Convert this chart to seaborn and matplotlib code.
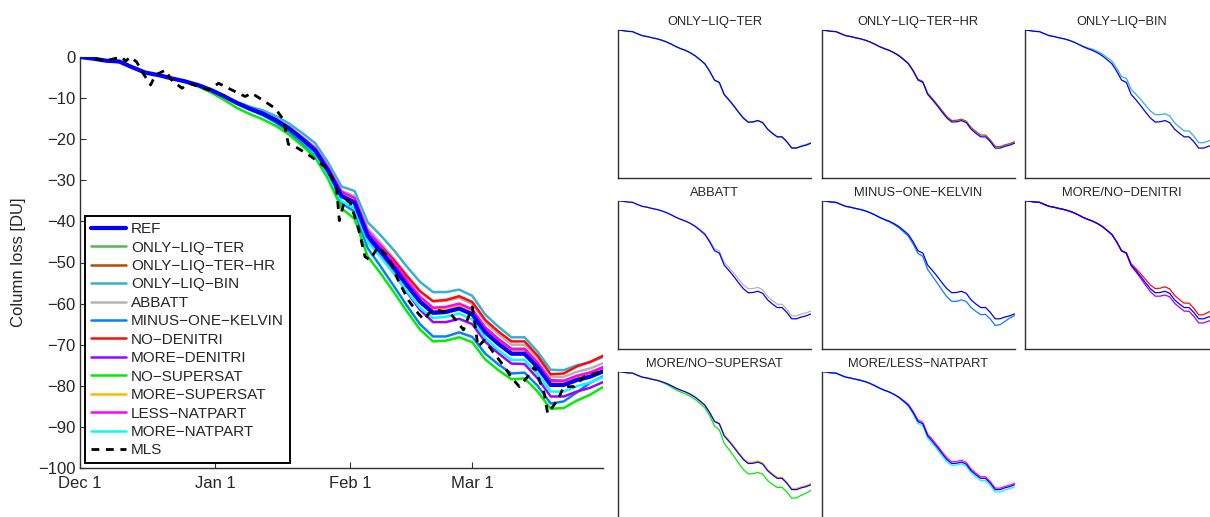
import numpy as np
import pandas as pd
import matplotlib
matplotlib.use("Agg")
import matplotlib.pyplot as plt
from matplotlib.lines import Line2D
import seaborn as sns

# ---------------------------------------------------------------- data
# days since 1 December (model output every 3 days)
days = np.arange(0, 121, 3)

ref = [0.0, -0.4, -0.9, -1.1, -2.5, -3.8, -4.4, -5.2, -5.9, -6.8, -8.0, -9.5, -11.2, -12.6,
       -13.8, -15.4, -17.4, -20.0, -22.8, -27.8, -33.8, -35.4, -43.5, -47.2, -51.2, -55.5,
       -59.5, -62.2, -62.0, -61.2, -62.6, -67.0, -69.8, -72.2, -72.2, -75.5, -79.8, -79.8,
       -78.6, -77.8, -76.5]
only_liq_ter = [0.0, -0.4, -0.9, -1.1, -2.5, -3.8, -4.4, -5.2, -5.9, -6.8, -8.0, -9.5, -11.2,
                -12.6, -13.8, -15.6, -17.6, -20.2, -23.0, -28.0, -34.0, -35.7, -43.8, -47.5,
                -51.5, -55.8, -59.8, -62.5, -62.3, -61.2, -62.6, -67.0, -69.8, -72.2, -72.2,
                -75.5, -79.5, -79.5, -78.3, -77.4, -76.1]
only_liq_ter_hr = [0.0, -0.4, -0.9, -1.1, -2.5, -3.8, -4.4, -5.2, -5.9, -6.8, -8.0, -9.5,
                   -11.2, -12.4, -13.6, -15.2, -17.0, -19.6, -22.4, -27.2, -33.2, -34.8, -42.7,
                   -46.4, -50.4, -54.5, -58.5, -61.2, -61.0, -60.2, -61.6, -65.8, -68.6, -71.0,
                   -71.0, -74.3, -78.6, -78.8, -77.6, -76.8, -75.5]
only_liq_bin = [0.0, -0.4, -0.9, -1.1, -2.5, -3.8, -4.4, -5.2, -5.9, -6.8, -8.0, -9.5, -10.9,
                -12.1, -13.0, -14.4, -16.2, -18.5, -21.0, -25.8, -31.5, -32.6, -40.2, -43.4,
                -47.0, -51.0, -54.7, -57.2, -57.2, -56.6, -58.1, -62.7, -65.6, -68.2, -68.2,
                -71.7, -76.1, -76.2, -75.0, -74.3, -73.0]
abbatt = [0.0, -0.4, -0.9, -1.1, -2.5, -3.8, -4.4, -5.2, -5.9, -6.8, -8.0, -9.5, -11.2, -12.6,
          -13.8, -15.2, -17.0, -19.4, -22.0, -26.8, -32.5, -33.9, -41.7, -45.2, -49.0, -53.1,
          -56.9, -59.5, -59.3, -58.6, -60.1, -64.6, -67.5, -70.0, -70.0, -73.4, -77.8, -77.8,
          -76.6, -75.8, -74.5]
minus_one_kelvin = [0.0, -0.4, -0.9, -1.1, -2.5, -3.8, -4.4, -5.2, -5.9, -6.8, -8.0, -9.5,
                    -11.2, -12.8, -14.2, -16.0, -18.2, -21.0, -24.0, -29.3, -35.6, -37.6, -46.5,
                    -51.0, -55.7, -60.5, -65.0, -68.0, -68.0, -67.0, -68.1, -72.2, -74.8, -77.0,
                    -76.8, -80.0, -84.3, -83.8, -81.6, -79.3, -77.7]
no_denitri = [0.0, -0.4, -0.9, -1.1, -2.5, -3.8, -4.4, -5.2, -5.9, -6.8, -8.0, -9.5, -11.2,
              -12.6, -13.8, -15.4, -17.4, -20.0, -22.8, -27.8, -33.8, -35.1, -42.7, -45.9,
              -49.4, -53.3, -57.0, -59.4, -59.1, -58.2, -59.6, -64.0, -66.8, -69.2, -69.2,
              -72.7, -77.2, -77.0, -75.3, -74.2, -72.7]
more_denitri = [0.0, -0.4, -0.9, -1.1, -2.5, -3.8, -4.4, -5.2, -5.9, -6.8, -8.0, -9.5, -11.2,
                -12.6, -13.8, -15.4, -17.4, -20.0, -22.8, -27.8, -33.8, -35.6, -44.0, -48.1,
                -52.5, -57.2, -61.5, -64.5, -64.5, -63.7, -65.0, -69.3, -72.1, -74.6, -74.7,
                -78.2, -82.6, -82.6, -81.4, -80.5, -79.1]
no_supersat = [0.0, -0.4, -0.9, -1.1, -2.5, -3.8, -4.4, -5.2, -5.9, -7.1, -8.6, -10.4, -12.4,
               -13.9, -15.2, -16.8, -18.9, -21.6, -24.5, -29.8, -36.8, -39.4, -48.5, -52.7,
               -57.2, -61.9, -66.3, -69.2, -69.0, -68.2, -69.4, -73.6, -76.2, -78.4, -78.2,
               -81.4, -85.6, -85.4, -83.6, -82.2, -80.3]
more_supersat = [0.0, -0.4, -0.9, -1.1, -2.5, -3.8, -4.4, -5.2, -5.9, -6.8, -8.0, -9.5, -11.2,
                 -12.6, -13.8, -15.3, -17.2, -19.7, -22.4, -27.3, -33.2, -34.7, -42.7, -46.4,
                 -50.4, -54.7, -58.7, -61.4, -61.2, -60.4, -61.8, -66.2, -69.0, -71.4, -71.4,
                 -74.7, -79.0, -79.0, -77.8, -77.0, -75.7]
less_natpart = [0.0, -0.4, -0.9, -1.1, -2.5, -3.8, -4.4, -5.2, -5.9, -6.8, -8.0, -9.5, -11.2,
                -12.6, -13.8, -15.4, -17.2, -19.6, -22.2, -27.0, -32.8, -34.3, -42.3, -46.0,
                -50.0, -54.3, -58.3, -61.0, -60.8, -60.0, -61.4, -65.9, -68.7, -71.1, -71.1,
                -74.5, -78.8, -78.8, -77.6, -76.8, -75.5]
more_natpart = [0.0, -0.4, -0.9, -1.1, -2.5, -3.8, -4.4, -5.2, -5.9, -6.8, -8.0, -9.5, -11.2,
                -12.6, -13.8, -15.4, -17.6, -20.4, -23.5, -28.8, -35.1, -36.8, -45.0, -48.7,
                -52.7, -57.0, -61.0, -63.5, -63.2, -62.4, -63.9, -68.4, -71.3, -73.7, -73.7,
                -77.1, -81.4, -81.4, -80.1, -79.2, -77.9]

# MLS observations
mls_days = [3.5, 5.5, 7.5, 9.5, 10.5, 11.5, 13.0, 14.5, 16.2, 17.3, 19.6, 21.0, 23.4, 25.0,
            27.2, 29.5, 31.8, 34.8, 37.9, 39.4, 42.5, 44.8, 46.7, 47.8, 50.0, 53.0, 56.2,
            57.7, 58.9, 59.5, 60.8, 62.0, 63.8, 65.4, 66.5, 68.4, 70.7, 73.0, 75.3, 77.6,
            79.0, 80.0, 82.0, 85.0, 88.0, 90.0, 90.6, 91.3, 92.8, 95.0, 97.4, 99.0, 100.8,
            102.7, 104.3, 106.5, 107.3, 109.6, 111.0, 113.4, 115.7, 118.0, 120.0]
mls = [-0.4, -0.9, -0.5, 0.0, -1.0, 0.0, -1.2, -4.0, -6.8, -4.4, -3.2, -5.6, -7.6, -6.4,
       -7.2, -8.0, -6.4, -8.0, -9.6, -8.8, -10.9, -12.5, -15.3, -21.2, -22.2, -24.2, -26.7,
       -29.1, -32.4, -39.8, -34.5, -35.5, -41.3, -48.6, -49.4, -46.2, -48.6, -54.3, -59.1,
       -62.4, -64.0, -62.4, -61.6, -62.4, -66.4, -60.8, -64.8, -70.5, -68.9, -72.1, -75.4,
       -78.0, -80.2, -77.8, -75.4, -81.8, -86.7, -83.5, -80.2, -80.2, -77.8, -77.0, -76.5]

labels = ["REF", "ONLY-LIQ-TER", "ONLY-LIQ-TER-HR", "ONLY-LIQ-BIN", "ABBATT",
          "MINUS-ONE-KELVIN", "NO-DENITRI", "MORE-DENITRI", "NO-SUPERSAT",
          "MORE-SUPERSAT", "LESS-NATPART", "MORE-NATPART"]
series = [ref, only_liq_ter, only_liq_ter_hr, only_liq_bin, abbatt, minus_one_kelvin,
          no_denitri, more_denitri, no_supersat, more_supersat, less_natpart, more_natpart]
colors = ["#0000FF", "#55B455", "#B24C00", "#38B0D0", "#B4B4B4", "#0A7DFF",
          "#FF0A0A", "#A000FF", "#00EE00", "#FFB600", "#FF00FF", "#00FFFF"]

tick_days = [0, 31, 62, 90]
tick_names = ["Dec 1", "Jan 1", "Feb 1", "Mar 1"]

panels = [("ONLY-LIQ-TER", ["ONLY-LIQ-TER"]),
          ("ONLY-LIQ-TER-HR", ["ONLY-LIQ-TER-HR"]),
          ("ONLY-LIQ-BIN", ["ONLY-LIQ-BIN"]),
          ("ABBATT", ["ABBATT"]),
          ("MINUS-ONE-KELVIN", ["MINUS-ONE-KELVIN"]),
          ("MORE/NO-DENITRI", ["NO-DENITRI", "MORE-DENITRI"]),
          ("MORE/NO-SUPERSAT", ["NO-SUPERSAT", "MORE-SUPERSAT"]),
          ("MORE/LESS-NATPART", ["LESS-NATPART", "MORE-NATPART"])]

# ---------------------------------------------------------------- style
sns.set_theme(style="white")
plt.rcParams["font.family"] = ["Liberation Sans", "DejaVu Sans"]
plt.rcParams["axes.unicode_minus"] = True

W, H = 1210, 517
fig = plt.figure(figsize=(W / 100, H / 100), dpi=100)


def rect(left, top, right, bottom):
    return [left / W, 1 - bottom / H, (right - left) / W, (bottom - top) / H]


def dash(s):
    return s.replace("-", "\u2212")


spine_col = "#303030"
data = {lab: vals for lab, vals in zip(labels, series)}
cmap = dict(zip(labels, colors))

# ---------------------------------------------------------------- main panel
ax = fig.add_axes(rect(80, 57, 603, 468))
# sensitivity runs first, the reference run on top of them, observations last
for lab, col in zip(labels[1:], colors[1:]):
    sns.lineplot(x=days, y=data[lab], ax=ax, color=col, lw=1.8, legend=False)
sns.lineplot(x=days, y=data["REF"], ax=ax, color=cmap["REF"], lw=3.0, legend=False)
sns.lineplot(x=mls_days, y=mls, ax=ax, color="black", lw=2.0, legend=False,
             linestyle=(0, (2.8, 2.4)), clip_on=False)

ax.set_xlim(0, 120)
ax.set_ylim(-100, 0)
ax.set_xticks(tick_days)
ax.set_xticklabels(tick_names)
ax.set_yticks(np.arange(-100, 1, 10))
ax.set_ylabel("Column loss [DU]", fontsize=12, labelpad=9)
ax.tick_params(direction="in", length=4, width=0.8, color=spine_col,
               labelsize=12, bottom=True, left=True)
ax.tick_params(axis="x", pad=6)
ax.tick_params(axis="y", pad=3)
for side in ["top", "right"]:
    ax.spines[side].set_visible(False)
for side in ["left", "bottom"]:
    ax.spines[side].set_color(spine_col)
    ax.spines[side].set_linewidth(1.0)

handles = [Line2D([], [], color=c, lw=(3.0 if l == "REF" else 1.8)) for l, c in zip(labels, colors)]
handles.append(Line2D([], [], color="black", lw=2.0, linestyle=(0, (2.8, 2.4))))
names = [dash(l) for l in labels] + ["MLS"]
leg = ax.legend(handles, names, loc="lower left", bbox_to_anchor=(0.0095, 0.011),
                borderaxespad=0, fontsize=11, frameon=True, fancybox=False,
                edgecolor="black", framealpha=1, labelspacing=0.29, handlelength=2.3,
                handletextpad=0.3, borderpad=0.4)
leg.get_frame().set_linewidth(1.4)

# ---------------------------------------------------------------- small panels
col_left = [618, 821.5, 1025]
row_top = [30, 200.7, 371.5]
pw, ph = 193, 148
for i, (title, members) in enumerate(panels):
    r, c = divmod(i, 3)
    l, t = col_left[c], row_top[r]
    sax = fig.add_axes(rect(l, t, l + pw, t + ph))
    for m in members:
        sns.lineplot(x=days, y=data[m], ax=sax, color=cmap[m], lw=0.9, legend=False)
    sns.lineplot(x=days, y=data["REF"], ax=sax, color=cmap["REF"], lw=0.9, legend=False)
    sax.set_xlim(0, 120)
    sax.set_ylim(-100, 0)
    sax.set_xticks([])
    sax.set_yticks([])
    sax.set_xlabel("")
    sax.set_ylabel("")
    sax.set_title(dash(title), fontsize=9.3, pad=3.5)
    for side in ["top", "right"]:
        sax.spines[side].set_visible(False)
    for side in ["left", "bottom"]:
        sax.spines[side].set_color(spine_col)
        sax.spines[side].set_linewidth(1.0)

fig.savefig("out.png", dpi=100)
